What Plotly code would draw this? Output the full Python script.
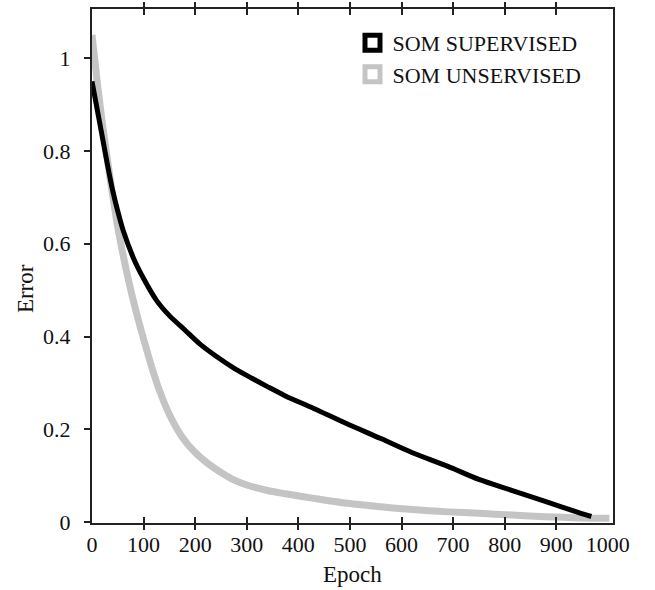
import plotly.graph_objects as go

# Supervised SOM (black curve)
sup_epoch = [0, 10, 20, 30, 40, 50, 60, 80, 100, 125, 150, 180, 210, 240, 275, 310, 340,
             375, 430, 490, 560, 620, 690, 750, 815, 880, 945, 968]
sup_error = [0.95, 0.89, 0.83, 0.77, 0.715, 0.67, 0.63, 0.57, 0.525, 0.478, 0.445, 0.414,
             0.383, 0.358, 0.332, 0.310, 0.292, 0.272, 0.245, 0.214, 0.180, 0.150, 0.120,
             0.092, 0.068, 0.044, 0.020, 0.012]

# Unsupervised SOM (gray curve)
uns_epoch = [0, 10, 20, 30, 40, 50, 60, 70, 80, 90, 100, 115, 130, 150, 175, 200, 225, 250,
             275, 300, 340, 375, 430, 490, 560, 620, 690, 750, 815, 880, 945, 1003]
uns_error = [1.05, 0.95, 0.86, 0.78, 0.705, 0.635, 0.577, 0.525, 0.478, 0.435, 0.395, 0.337,
             0.286, 0.232, 0.183, 0.150, 0.126, 0.107, 0.091, 0.080, 0.068, 0.061, 0.051,
             0.041, 0.033, 0.027, 0.022, 0.019, 0.015, 0.0115, 0.009, 0.008]

x_tick_vals = [0, 100, 200, 300, 400, 500, 600, 700, 800, 900, 1000]
x_tick_text = ["0", "100", "200", "300", "400", "500", "600", "700", "800", "900", "1000"]
x_tick_marks = [100, 200, 300, 400, 500, 600, 700, 800, 900]
y_tick_vals = [0, 0.2, 0.4, 0.6, 0.8, 1]
y_tick_text = ["0", "0.2", "0.4", "0.6", "0.8", "1"]

names = ["SOM SUPERVISED", "SOM UNSERVISED"]
x_title = "Epoch"
y_title = "Error"
GRAY = "#c4c4c4"
AX = "#222222"
FONT = "Liberation Serif"
XR = [0, 1010]
YR = [-0.002, 1.106]

fig = go.Figure()
fig.add_trace(go.Scatter(x=uns_epoch, y=uns_error, mode="lines", showlegend=False,
                         hoverinfo="skip",
                         line=dict(color=GRAY, width=7, shape="spline", smoothing=0.8)))
fig.add_trace(go.Scatter(x=sup_epoch, y=sup_error, mode="lines", showlegend=False,
                         hoverinfo="skip",
                         line=dict(color="black", width=5, shape="spline", smoothing=0.8)))
# invisible traces so the tick-only overlay axes get drawn
fig.add_trace(go.Scatter(x=[None], y=[None], xaxis="x2", showlegend=False))
fig.add_trace(go.Scatter(x=[None], y=[None], xaxis="x3", showlegend=False))
# legend-only entries
fig.add_trace(go.Scatter(x=[None], y=[None], mode="markers", name=names[0],
                         marker=dict(symbol="square", size=15, color="white",
                                     line=dict(color="black", width=5))))
fig.add_trace(go.Scatter(x=[None], y=[None], mode="markers", name=names[1],
                         marker=dict(symbol="square", size=15, color="white",
                                     line=dict(color=GRAY, width=5))))

axis_line = dict(showline=True, linecolor=AX, linewidth=2, showgrid=False, zeroline=False,
                 automargin=False)
tick_axis = dict(range=XR, overlaying="x", tickvals=x_tick_marks, ticklen=6, tickwidth=2,
                 tickcolor=AX, showticklabels=False, mirror="ticks", showline=False,
                 showgrid=False, zeroline=False, automargin=False)

fig.update_layout(
    width=655, height=590,
    margin=dict(l=92, r=42, t=9, b=67, autoexpand=False),
    paper_bgcolor="white", plot_bgcolor="white",
    font=dict(family=FONT, size=22, color="#111111"),
    xaxis=dict(range=XR, tickvals=x_tick_vals, ticktext=x_tick_text, ticks="",
               mirror=True, ticklabelstandoff=1, **axis_line),
    xaxis2=dict(ticks="outside", **tick_axis),
    xaxis3=dict(ticks="inside", **tick_axis),
    yaxis=dict(range=YR, tickvals=y_tick_vals, ticktext=y_tick_text, ticks="outside",
               ticklen=6, tickwidth=2, tickcolor=AX, mirror=True, ticklabelstandoff=9,
               **axis_line),
    legend=dict(x=0.5, y=0.975, xanchor="left", yanchor="top",
                font=dict(family=FONT, size=22, color="#111111"),
                bgcolor="rgba(0,0,0,0)", tracegroupgap=0, itemsizing="trace"),
    annotations=[
        dict(text=x_title, xref="paper", yref="paper", x=0.5, y=-0.101,
             xanchor="center", yanchor="middle", showarrow=False,
             font=dict(family=FONT, size=23, color="#111111")),
        dict(text=y_title, xref="paper", yref="paper", x=-0.1286, y=0.457,
             xanchor="center", yanchor="middle", showarrow=False, textangle=-90,
             font=dict(family=FONT, size=23, color="#111111")),
    ],
)

# remove the browser's default 8px body margin so the figure fills the window exactly
fig.write_html("out.html", config={"displayModeBar": False},
               post_script="document.body.style.margin='0';")
